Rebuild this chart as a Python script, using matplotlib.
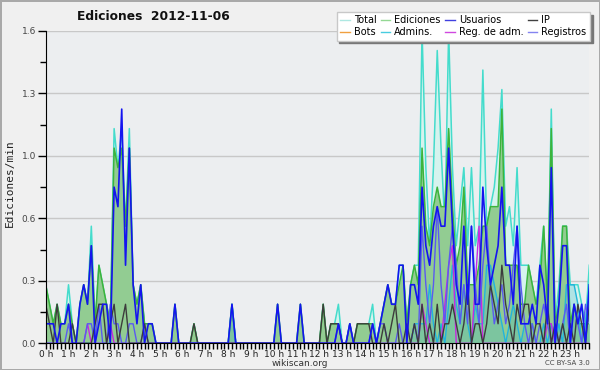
import numpy as np
import matplotlib
matplotlib.use("Agg")
import matplotlib.pyplot as plt
from matplotlib.lines import Line2D

# edits per 10-minute bucket, 6 buckets per hour, 24 hours
BUCKET_MIN = 10
HOUR_LABELS = [f"{h} h" for h in range(24)]

total = [3, 2, 1, 2, 1, 1,  3, 1, 0, 2, 3, 2,  6, 1, 4, 3, 2, 1,  11, 9, 11, 6, 11, 3,
         2, 3, 1, 1, 1, 0,  0, 0, 0, 0, 2, 0,  0, 0, 0, 1, 0, 0,  0, 0, 0, 0, 0, 0,
         0, 2, 0, 0, 0, 0,  0, 0, 0, 0, 0, 0,  0, 2, 0, 0, 0, 0,  0, 2, 0, 0, 0, 0,
         0, 2, 0, 1, 1, 2,  0, 0, 1, 0, 1, 1,  1, 1, 2, 0, 1, 2,  3, 2, 2, 4, 4, 1,
         3, 4, 4, 16, 9, 5,  9, 15, 10, 6, 16, 9,  5, 7, 9, 5, 9, 5,  6, 14, 6, 7, 8, 10,
         13, 6, 7, 5, 9, 4,  4, 4, 3, 2, 4, 6,  2, 12, 1, 3, 6, 6,  3, 3, 3, 2, 1, 4]

ediciones = [3, 2, 1, 2, 1, 1,  2, 1, 0, 2, 3, 2,  5, 1, 4, 3, 2, 1,  10, 9, 10, 6, 10, 3,
             2, 3, 1, 1, 1, 0,  0, 0, 0, 0, 2, 0,  0, 0, 0, 1, 0, 0,  0, 0, 0, 0, 0, 0,
             0, 2, 0, 0, 0, 0,  0, 0, 0, 0, 0, 0,  0, 2, 0, 0, 0, 0,  0, 2, 0, 0, 0, 0,
             0, 2, 0, 1, 1, 1,  0, 0, 1, 0, 1, 1,  1, 1, 1, 0, 1, 2,  3, 2, 2, 3, 4, 1,
             3, 4, 3, 10, 6, 5,  7, 8, 7, 7, 11, 7,  4, 5, 8, 3, 3, 3,  4, 6, 6, 7, 7, 7,
             12, 4, 4, 4, 4, 2,  2, 4, 3, 2, 3, 6,  2, 11, 1, 2, 6, 6,  1, 2, 1, 1, 1, 1]

usuarios = [1, 1, 1, 0, 1, 1,  2, 0, 0, 2, 3, 2,  5, 0, 1, 2, 2, 0,  8, 7, 12, 4, 10, 3,
            1, 3, 0, 1, 1, 0,  0, 0, 0, 0, 2, 0,  0, 0, 0, 0, 0, 0,  0, 0, 0, 0, 0, 0,
            0, 2, 0, 0, 0, 0,  0, 0, 0, 0, 0, 0,  0, 2, 0, 0, 0, 0,  0, 2, 0, 0, 0, 0,
            0, 0, 0, 0, 0, 1,  0, 0, 1, 0, 0, 0,  0, 0, 1, 0, 1, 2,  3, 2, 2, 4, 4, 0,
            3, 3, 2, 8, 5, 4,  6, 7, 6, 6, 10, 6,  3, 2, 6, 2, 6, 2,  2, 8, 5, 3, 4, 5,
            8, 4, 4, 2, 6, 1,  1, 1, 2, 1, 4, 3,  1, 9, 0, 2, 5, 5,  0, 2, 1, 2, 0, 3]

ip = [2, 1, 0, 2, 0, 0,  0, 1, 0, 0, 0, 0,  0, 1, 2, 2, 0, 1,  2, 0, 1, 2, 0, 0,
      0, 0, 1, 0, 0, 0,  0, 0, 0, 0, 0, 0,  0, 0, 0, 1, 0, 0,  0, 0, 0, 0, 0, 0,
      0, 0, 0, 0, 0, 0,  0, 0, 0, 0, 0, 0,  0, 0, 0, 0, 0, 0,  0, 0, 0, 0, 0, 0,
      0, 2, 0, 1, 1, 1,  0, 0, 0, 0, 1, 1,  1, 1, 0, 0, 0, 1,  0, 1, 2, 0, 0, 1,
      0, 1, 0, 2, 0, 1,  0, 2, 0, 1, 1, 2,  1, 0, 1, 3, 0, 1,  1, 0, 1, 3, 2, 1,
      4, 2, 1, 0, 2, 1,  2, 2, 0, 1, 1, 0,  2, 0, 1, 0, 1, 0,  1, 0, 2, 1, 0, 2]

bots = [0] * 144

admins = [0, 0, 0, 0, 0, 0,  0, 0, 0, 0, 0, 0,  0, 0, 0, 0, 0, 0,  0, 0, 0, 0, 0, 0,
          0, 0, 0, 0, 0, 0,  0, 0, 0, 0, 0, 0,  0, 0, 0, 0, 0, 0,  0, 0, 0, 0, 0, 0,
          0, 2, 0, 0, 0, 0,  0, 0, 0, 0, 0, 0,  0, 0, 0, 0, 0, 0,  0, 0, 0, 0, 0, 0,
          0, 0, 0, 0, 0, 0,  0, 0, 0, 0, 0, 0,  0, 0, 0, 0, 0, 0,  0, 0, 0, 0, 0, 0,
          0, 1, 1, 1, 1, 3,  1, 0, 1, 0, 2, 4,  2, 1, 3, 1, 0, 2,  1, 1, 4, 4, 3, 2,
          1, 0, 1, 2, 1, 0,  1, 1, 1, 0, 0, 1,  0, 1, 0, 1, 0, 3,  3, 3, 2, 0, 1, 3]

reg_adm = [0, 0, 0, 0, 0, 0,  0, 0, 0, 0, 0, 1,  0, 0, 0, 0, 0, 1,  0, 0, 0, 0, 0, 0,
           0, 0, 0, 0, 0, 0,  0, 0, 0, 0, 0, 0,  0, 0, 0, 0, 0, 0,  0, 0, 0, 0, 0, 0,
           0, 0, 0, 0, 0, 0,  0, 0, 0, 0, 0, 0,  0, 0, 0, 0, 0, 0,  0, 0, 0, 0, 0, 0,
           0, 0, 0, 0, 0, 0,  0, 0, 0, 0, 0, 0,  0, 0, 0, 0, 0, 0,  0, 0, 0, 0, 0, 0,
           0, 0, 0, 2, 1, 0,  0, 0, 0, 2, 4, 5,  0, 0, 0, 0, 0, 3,  6, 0, 0, 0, 0, 0,
           0, 0, 0, 0, 0, 0,  0, 0, 0, 0, 0, 0,  1, 1, 0, 0, 0, 0,  0, 0, 0, 0, 0, 0]

registros = [0, 0, 0, 0, 0, 0,  1, 0, 0, 0, 0, 1,  1, 0, 2, 0, 0, 2,  1, 1, 0, 0, 1, 1,
             0, 0, 1, 0, 0, 0,  0, 0, 0, 0, 0, 0,  0, 0, 0, 0, 0, 0,  0, 0, 0, 0, 0, 0,
             0, 0, 0, 0, 0, 0,  0, 0, 0, 0, 0, 0,  0, 0, 0, 0, 0, 0,  0, 0, 0, 0, 0, 0,
             0, 0, 0, 0, 0, 1,  0, 0, 1, 0, 0, 0,  0, 0, 1, 0, 1, 1,  0, 0, 0, 1, 0, 0,
             0, 1, 0, 6, 3, 1,  3, 7, 3, 1, 4, 6,  4, 1, 3, 1, 6, 3,  1, 4, 6, 3, 1, 2,
             3, 1, 2, 4, 6, 3,  1, 0, 1, 0, 1, 2,  1, 0, 1, 0, 1, 2,  0, 2, 1, 0, 2, 1]


def rate(counts):
    # edits per minute
    return np.array(counts, dtype=float) / BUCKET_MIN


x = np.arange(len(total)) / 6.0

fig = plt.figure(figsize=(6, 3.7), dpi=100)
fig.patch.set_facecolor("#f0f0f0")
fig.patch.set_edgecolor("#a9a9a9")
fig.patch.set_linewidth(2)

ax = fig.add_axes([45.7 / 600, 26.7 / 370, 543.6 / 600, 312.3 / 370])
ax.set_facecolor("#eceef0")

c_total, c_edic, c_usu, c_ip = "#44dccc", "#3cb43c", "#1414f0", "#3c3c3c"
c_admin, c_regadm, c_reg = "#22b4dc", "#c828e0", "#5a5af0"

ax.fill_between(x, rate(total), color="#d6f3ee", lw=0, zorder=1)
ax.plot(x, rate(total), color=c_total, lw=1.1, zorder=2)
ax.fill_between(x, rate(ediciones), color="#92cc92", lw=0, zorder=3)
ax.fill_between(x, rate(admins), color="#3cb4c8", alpha=0.25, lw=0, zorder=3)
ax.plot(x, rate(ediciones), color=c_edic, lw=1.1, zorder=4)
ax.plot(x, rate(admins), color=c_admin, lw=1.0, zorder=5)
ax.plot(x, rate(reg_adm), color=c_regadm, lw=1.0, zorder=5)
ax.plot(x, rate(registros), color=c_reg, lw=1.0, zorder=6)
ax.plot(x, rate(ip), color=c_ip, lw=1.0, zorder=6)
ax.plot(x, rate(usuarios), color=c_usu, lw=1.2, zorder=7)

ax.set_xlim(0, x[-1])
ax.set_ylim(0, 1.6)

yt = np.arange(6) * 0.32
ax.set_yticks(yt)
ax.set_yticklabels([f"{v:.1f}" for v in yt])
ax.set_yticks(yt[:-1] + 0.16, minor=True)
ax.set_xticks(range(24))
ax.set_xticklabels(HOUR_LABELS)
ax.set_xticks(np.arange(0, 24, 1 / 6), minor=True)
ax.grid(axis="y", which="major", color="#c8c8c8", lw=1)
ax.set_axisbelow(True)

for s in ("top", "right"):
    ax.spines[s].set_visible(False)
ax.spines["left"].set_zorder(10)
ax.spines["bottom"].set_zorder(10)
ax.tick_params(axis="y", which="major", length=6, width=1, labelsize=6.5, labelcolor="#444444", pad=1)
ax.tick_params(axis="y", which="minor", length=4, width=1)
ax.tick_params(axis="x", which="both", length=4, width=1, labelsize=6.5, labelcolor="#222222", pad=0.5)

fig.text(5 / 600, 187 / 370, "Ediciones/min", rotation=90, va="center", ha="left",
         family="DejaVu Sans Mono", fontsize=8, color="#222222")
fig.text(153 / 600, 1 - 17 / 370, "Ediciones  2012-11-06", ha="center", va="center",
         fontsize=8.8, fontweight="bold", color="#111111")
fig.text(300 / 600, 1 - 363 / 370, "wikiscan.org", ha="center", va="center",
         fontsize=6.5, color="#333333")
fig.text(590 / 600, 1 - 363 / 370, "CC BY-SA 3.0", ha="right", va="center",
         fontsize=5, color="#444444")

legend_items = [
    ("Total", "#aee8e2"), ("Bots", "#f0a040"),
    ("Ediciones", "#94d894"), ("Admins.", "#48cce0"),
    ("Usuarios", "#4040e0"), ("Reg. de adm.", "#d048e0"),
    ("IP", "#404040"), ("Registros", "#8484f0"),
]
handles = [Line2D([], [], color=c, lw=1) for _, c in legend_items]
labels = [n for n, _ in legend_items]
fig.legend(handles, labels, ncol=4, loc="upper right", bbox_to_anchor=(0.983, 0.968),
           fontsize=7, frameon=True, fancybox=False, edgecolor="#c8c8c8",
           facecolor="white", framealpha=1, shadow={"color": "#777777", "alpha": 1},
           handlelength=1.0, handletextpad=0.4, columnspacing=0.45, labelspacing=0.2,
           borderpad=0.35, borderaxespad=0)

fig.savefig("out.png", dpi=100)
